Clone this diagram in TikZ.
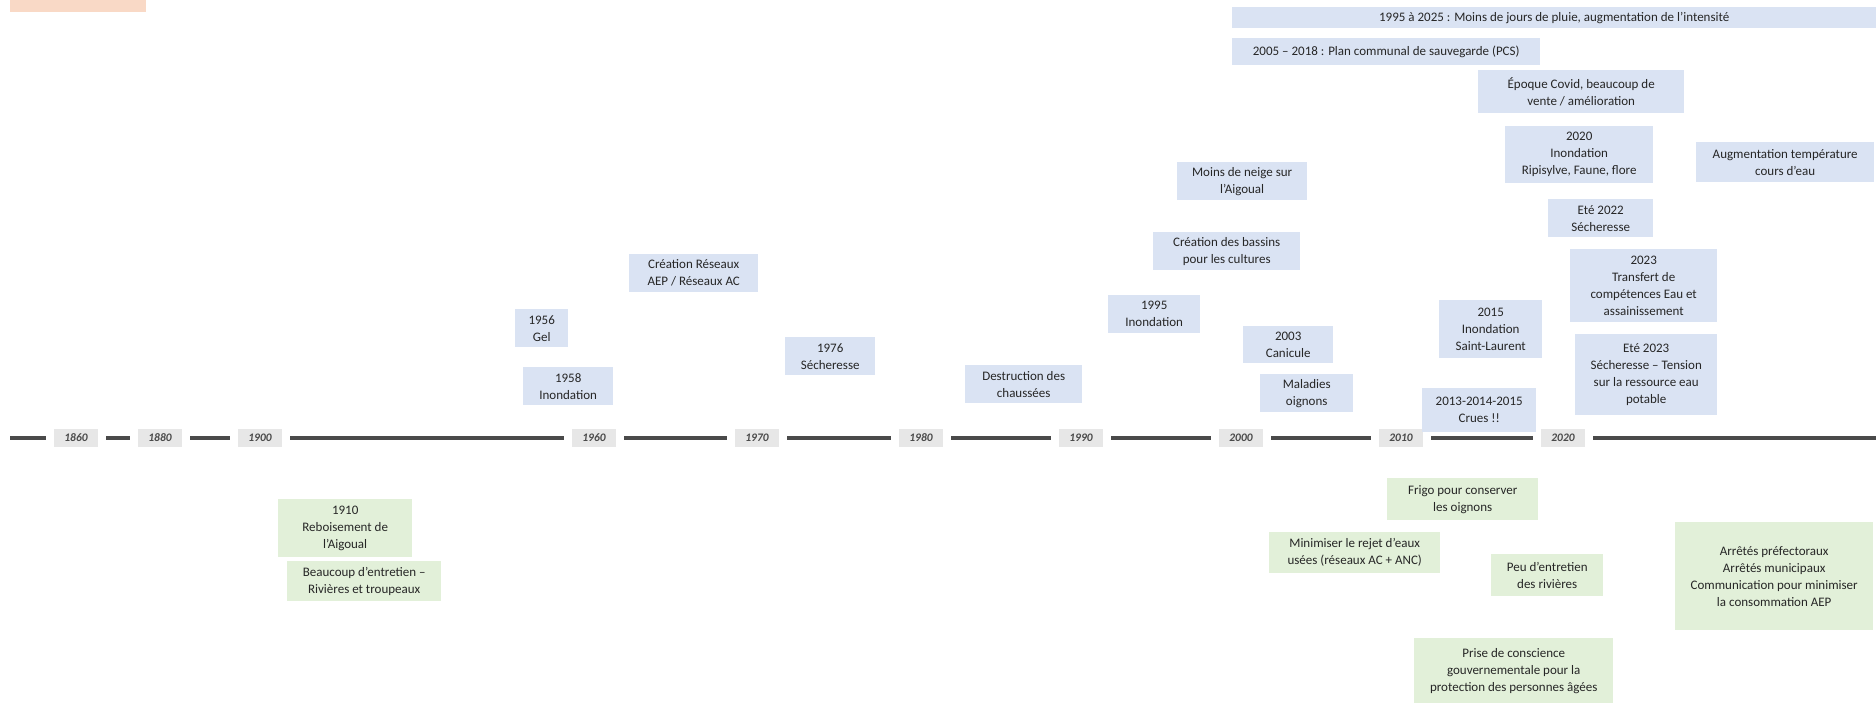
\documentclass[tikz,border=0pt]{standalone}
\usepackage{fontspec}
\setmainfont{Carlito}
\usetikzlibrary{positioning}
\definecolor{evtblue}{HTML}{DAE3F3}
\definecolor{actgreen}{HTML}{E2F0D9}
\definecolor{peach}{HTML}{F9D9C6}
\definecolor{yrgray}{HTML}{E7E7E7}
\definecolor{axisgray}{HTML}{4A4A4A}
\definecolor{txtgray}{HTML}{262626}
\begin{document}
\begin{tikzpicture}[x=1pt,y=-1pt,
box/.style 2 args={anchor=north west,minimum width=#1,minimum height=#2,inner sep=2pt,
 align=center,text=txtgray,font=\fontsize{13}{17}\selectfont},
evt/.style 2 args={box={#1}{#2},fill=evtblue},
act/.style 2 args={box={#1}{#2},fill=actgreen},
yr/.style={fill=yrgray,draw=white,line width=8pt,minimum width=52,minimum height=26,inner sep=1pt,
 text=axisgray,font=\fontsize{11.5}{13}\selectfont\bfseries\itshape}]
\useasboundingbox (0,0) rectangle (1876,705);
\node[box={136}{12},fill=peach] (legende) at (10,0) {};
% axe du temps
\coordinate (axe-a) at (10,438);\coordinate (axe-b) at (1876,438);
\draw[line width=4pt,axisgray] (axe-a)--(axe-b);
\node[yr] (y1860) at (76,438) {1860};
\node[yr] (y1880) at (160,438) {1880};
\node[yr] (y1900) at (260,438) {1900};
\node[yr] (y1960) at (594,438) {1960};
\node[yr] (y1970) at (757,438) {1970};
\node[yr] (y1980) at (921,438) {1980};
\node[yr] (y1990) at (1081,438) {1990};
\node[yr] (y2000) at (1241,438) {2000};
\node[yr] (y2010) at (1401,438) {2010};
\node[yr] (y2020) at (1563,438) {2020};
% evenements
\node[evt={644}{21}] (pluie) at (1232,7) {1995 à 2025 : Moins de jours de pluie, augmentation de l'intensité};
\node[evt={308}{27}] (pcs) at (1232,38) {2005 – 2018 : Plan communal de sauvegarde (PCS)};
\node[evt={206}{43}] (covid) at (1478,70) {Époque Covid, beaucoup de\\vente / amélioration};
\node[evt={148}{57}] (inond2020) at (1505,126) {2020\\Inondation\\Ripisylve, Faune, flore};
\node[evt={178}{40}] (tempeau) at (1696,142) {Augmentation température\\cours d'eau};
\node[evt={130}{38}] (neige) at (1177,162) {Moins de neige sur\\l'Aigoual};
\node[evt={105}{38}] (ete2022) at (1548,199) {Eté 2022\\Sécheresse};
\node[evt={147}{38}] (bassins) at (1153,232) {Création des bassins\\pour les cultures};
\node[evt={147}{73}] (transfert) at (1570,249) {2023\\Transfert de\\compétences Eau et\\assainissement};
\node[evt={129}{38}] (reseaux) at (629,254) {Création Réseaux\\AEP / Réseaux AC};
\node[evt={92}{38}] (inond1995) at (1108,295) {1995\\Inondation};
\node[evt={53}{38}] (gel) at (515,309) {1956\\Gel};
\node[evt={90}{37}] (canicule) at (1243,326) {2003\\Canicule};
\node[evt={103}{58}] (inond2015) at (1439,300) {2015\\Inondation\\Saint-Laurent};
\node[evt={90}{38}] (sech1976) at (785,337) {1976\\Sécheresse};
\node[evt={142}{81}] (ete2023) at (1575,334) {Eté 2023\\Sécheresse – Tension\\sur la ressource eau\\potable};
\node[evt={117}{38}] (chaussees) at (965,365) {Destruction des\\chaussées};
\node[evt={90}{38}] (inond1958) at (523,367) {1958\\Inondation};
\node[evt={93}{38}] (oignons) at (1260,374) {Maladies\\oignons};
\node[evt={114}{44}] (crues) at (1422,388) {2013-2014-2015\\Crues !!};
% actions
\node[act={134}{58}] (reboise) at (278,499) {1910\\Reboisement de\\l'Aigoual};
\node[act={154}{40}] (entretien) at (287,561) {Beaucoup d'entretien –\\Rivières et troupeaux};
\node[act={151}{42}] (frigo) at (1387,478) {Frigo pour conserver\\les oignons};
\node[act={171}{41}] (rejet) at (1269,532) {Minimiser le rejet d'eaux\\usées (réseaux AC + ANC)};
\node[act={112}{42}] (peuentr) at (1491,554) {Peu d'entretien\\des rivières};
\node[act={198}{108}] (arretes) at (1675,522) {Arrêtés préfectoraux\\Arrêtés municipaux\\Communication pour minimiser\\la consommation AEP};
\node[act={199}{65}] (agees) at (1414,638) {Prise de conscience\\gouvernementale pour la\\protection des personnes âgées};
\end{tikzpicture}
\end{document}
